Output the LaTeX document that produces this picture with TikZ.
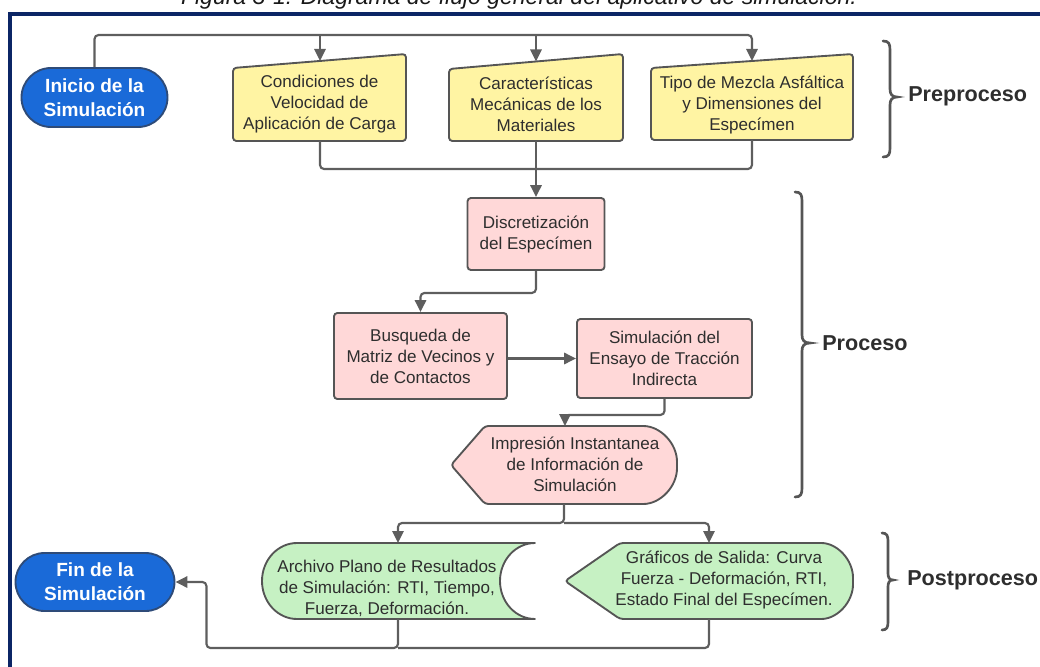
\documentclass[tikz,border=0pt]{standalone}
\usepackage{fontspec}
\setmainfont{Liberation Sans}
\usetikzlibrary{arrows.meta,calc,shapes.misc}

\definecolor{framenavy}{HTML}{0B2565}
\definecolor{termblue}{HTML}{1A6AD8}
\definecolor{termedge}{HTML}{2E4B78}
\definecolor{inputyellow}{HTML}{FFF4A3}
\definecolor{procpink}{HTML}{FFD8D8}
\definecolor{outgreen}{HTML}{C6F1C3}
\definecolor{edgegray}{HTML}{555555}
\definecolor{linegray}{HTML}{5E5E5E}
\definecolor{txt}{HTML}{2E2E2E}

\tikzset{
  boxfont/.style={font=\fontsize{12.8}{15.75}\selectfont, text=txt, align=center, inner sep=0pt},
  shapeedge/.style={draw=edgegray, line width=1.4pt, rounded corners=2.5pt},
  curvededge/.style={draw=edgegray, line width=1.4pt, line join=round},
  inputbox/.style={shapeedge, fill=inputyellow},
  outbox/.style={shapeedge, fill=outgreen},
  procbox/.style={rectangle, shapeedge, fill=procpink, boxfont},
  terminal/.style={rounded rectangle, draw=termedge, line width=1.4pt, fill=termblue,
    text=white, font=\bfseries\fontsize{14.3}{18}\selectfont, align=center, inner sep=0pt},
  flow/.style={draw=linegray, line width=1.6pt, rounded corners=3pt},
  flowarrow/.style={flow, -{Triangle[length=9pt,width=8.5pt]}},
  bracket/.style={draw=edgegray, line width=2pt, line cap=round},
  phasetext/.style={font=\bfseries\fontsize{16.2}{19}\selectfont, text=txt, anchor=west, inner sep=0pt},
}

\begin{document}
\begin{tikzpicture}[x=0.75pt, y=-0.75pt]
\useasboundingbox (0,0) rectangle (1040,667);
\clip (0,0) rectangle (1040,667);

% caption and frame
\node[anchor=base, font=\itshape\fontsize{17.25}{21}\selectfont, text=black!90] (caption) at (519,5)
  {Figura 3-1: Diagrama de flujo general del aplicativo de simulación.};
\draw[framenavy, line width=2.4pt] (1040,14) -- (10,14) -- (10,667);

% terminals
\node[terminal, minimum width=109.5pt, minimum height=44.25pt] (start) at (94.5,97.5) {Inicio de la\\Simulación};
\node[terminal, minimum width=119.25pt, minimum height=43.5pt] (fin) at (95,582) {Fin de la\\Simulación};

% manual input boxes
\draw[inputbox] (233,141) -- (233,68) -- (406,54) -- (406,141) -- cycle;
\draw[inputbox] (449,141) -- (449,69) -- (623,54) -- (623,141) -- cycle;
\draw[inputbox] (651,140) -- (651,68) -- (853,54) -- (853,140) -- cycle;
\node[boxfont] (y1) at (319.5,104.5) {Condiciones de\\Velocidad de\\Aplicación de Carga};
\node[boxfont] (y2) at (536,104.5) {Características\\Mecánicas de los\\Materiales};
\node[boxfont] (y3) at (752,104.5) {Tipo de Mezcla Asfáltica\\y Dimensiones del\\Especímen};
\coordinate (y1t) at (320,61);   \coordinate (y1b) at (320,141);
\coordinate (y2t) at (536,61.5); \coordinate (y2b) at (536,141);
\coordinate (y3t) at (752,61);   \coordinate (y3b) at (752,140);
\coordinate (topbus) at (95,35);
\coordinate (midbus) at (536,169);

% process boxes
\node[procbox, minimum width=102.75pt, minimum height=54pt] (disc) at (536,234) {Discretización\\del Especímen};
\node[procbox, minimum width=129.75pt, minimum height=64.5pt] (busq) at (420.5,356) {Busqueda de\\Matriz de Vecinos y\\de Contactos};
\node[procbox, minimum width=131.25pt, minimum height=59.25pt] (sim) at (664.5,358.5) {Simulación del\\Ensayo de Tracción\\Indirecta};

% display shape
\draw[shapeedge, fill=procpink] (451,465) -- (485,426) -- (640,426)
  .. controls (660.4,426) and (677,443.5) .. (677,465)
  .. controls (677,486.5) and (660.4,504) .. (640,504) -- (485,504) -- cycle;
\node[boxfont] (disp) at (575,464) {Impresión Instantanea\\de Información de\\Simulación};
\coordinate (dispt) at (565,426);
\coordinate (dispb) at (564,504);
\coordinate (splitbus) at (564,523);

% stored data shape
\draw[curvededge, fill=outgreen] (297,543) -- (535,543)
  .. controls (515.7,543) and (500,560) .. (500,581)
  .. controls (500,602) and (515.7,619) .. (535,619) -- (297,619)
  .. controls (277.7,619) and (262,602) .. (262,581)
  .. controls (262,560) and (277.7,543) .. cycle;
\node[boxfont] (g1) at (387,588) {Archivo Plano de Resultados\\de Simulación: RTI, Tiempo,\\Fuerza, Deformación.};
\coordinate (g1t) at (398,543);
\coordinate (g1b) at (398,619);

% output display shape
\draw[outbox] (565,581) -- (620,543) -- (818,543)
  .. controls (837.3,543) and (853,560) .. (853,581)
  .. controls (853,602) and (837.3,619) .. (818,619) -- (620,619) -- cycle;
\node[boxfont] (g2) at (724,580) {Gráficos de Salida: Curva\\Fuerza - Deformación, RTI,\\Estado Final del Especímen.};
\coordinate (g2t) at (709,543);
\coordinate (g2b) at (709,619);
\coordinate (lowbus) at (398,648);

% connectors
\draw[flowarrow] (start.north) -- (start.north |- topbus) -| (y3t);
\draw[flowarrow] (y1t |- topbus) -- (y1t);
\draw[flowarrow] (y2t |- topbus) -- (y2t);
\draw[flow] (y1b) |- (midbus);
\draw[flow] (y3b) |- (midbus);
\draw[flowarrow] (y2b) -- (disc.north);
\draw[flowarrow] (disc.south) -- ++(0,22) -| (busq.north);
\draw[flowarrow] (busq.east |- sim.west) -- (sim.west);
\draw[flowarrow] (sim.south) -- ++(0,16) -| (dispt);
\draw[flowarrow] (dispb) -- (splitbus) -| (g1t);
\draw[flowarrow] (splitbus) -| (g2t);
\draw[flowarrow] (g1b) -- (lowbus) -| ($(fin.east)+(31,0)$) -- (fin.east);
\draw[flow] (g2b) |- (lowbus);

% phase braces
\draw[bracket] (883,41) .. controls (889,41) and (890,44) .. (890,50) -- (890,89)
  .. controls (890,94) and (892,97) .. (897,97)
  .. controls (892,97) and (890,100) .. (890,105) -- (890,148)
  .. controls (890,154) and (889,157) .. (883,157);
\node[phasetext] (pre) at (908,96) {Preproceso};

\draw[bracket] (795,192) .. controls (801,192) and (802,195) .. (802,201) -- (802,335)
  .. controls (802,340) and (804,343) .. (810,343)
  .. controls (804,343) and (802,346) .. (802,351) -- (802,488)
  .. controls (802,494) and (801,497) .. (795,497);
\node[phasetext] (pro) at (822,343) {Proceso};

\draw[bracket] (882,533) .. controls (887,533) and (888,536) .. (888,541) -- (888,573)
  .. controls (888,577) and (889,580) .. (893,580)
  .. controls (889,580) and (888,583) .. (888,587) -- (888,622)
  .. controls (888,627) and (887,630) .. (882,630);
\node[phasetext] (post) at (907,580) {Postproceso};
\end{tikzpicture}
\end{document}
